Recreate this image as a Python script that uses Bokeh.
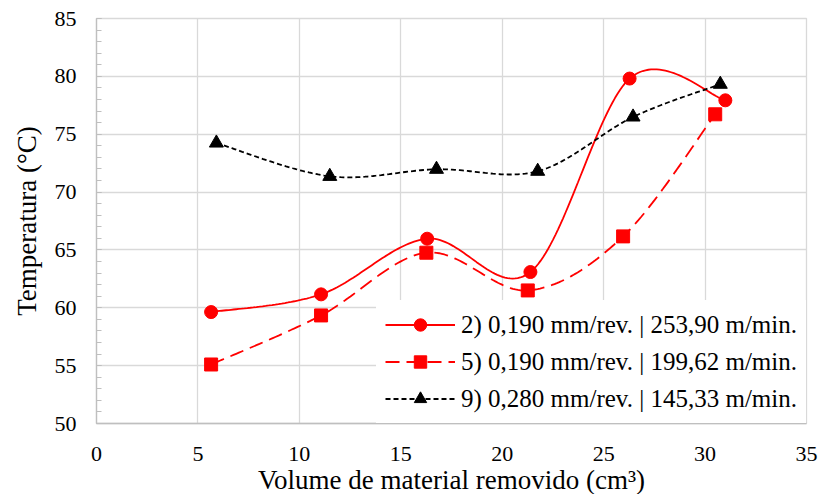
import numpy as np
from bokeh.plotting import figure
from bokeh.models import Range1d, Legend, LegendItem, FixedTicker
from bokeh.embed import file_html
from bokeh.resources import INLINE

# ---- data ----
x_s2 = [5.65, 11.07, 16.30, 21.39, 26.28, 31.00]
y_s2 = [59.63, 61.16, 65.97, 63.09, 79.81, 77.93]
x_s5 = [5.65, 11.07, 16.26, 21.26, 25.96, 30.50]
y_s5 = [55.10, 59.34, 64.76, 61.50, 66.17, 76.72]
x_s9 = [5.91, 11.50, 16.76, 21.75, 26.45, 30.75]
y_s9 = [74.24, 71.36, 71.97, 71.80, 76.49, 79.32]
labels = ["2) 0,190 mm/rev. | 253,90 m/min.",
          "5) 0,190 mm/rev. | 199,62 m/min.",
          "9) 0,280 mm/rev. | 145,33 m/min."]
x_ticks = [0, 5, 10, 15, 20, 25, 30, 35]
y_ticks = [50, 55, 60, 65, 70, 75, 80, 85]

FONT = "Liberation Serif"


def smooth(xs, ys, n=40):
    """Excel-like smoothed line (Catmull-Rom Bezier)."""
    P = np.column_stack([xs, ys]).astype(float)
    m = len(P)
    out = []
    for i in range(m - 1):
        p0 = P[i - 1] if i > 0 else P[i]
        p1 = P[i]
        p2 = P[i + 1]
        p3 = P[i + 2] if i + 2 < m else P[i + 1]
        c1 = p1 + (p2 - p0) / 6.0
        c2 = p2 - (p3 - p1) / 6.0
        t = np.linspace(0, 1, n, endpoint=(i == m - 2))[:, None]
        seg = ((1 - t) ** 3) * p1 + 3 * ((1 - t) ** 2) * t * c1 + 3 * (1 - t) * t ** 2 * c2 + t ** 3 * p2
        out.append(seg)
    out = np.vstack(out)
    return out[:, 0], out[:, 1]


p = figure(frame_width=710, frame_height=405,
           min_border_left=96, min_border_right=15, min_border_top=18, min_border_bottom=71,
           x_range=Range1d(0, 35), y_range=Range1d(50, 85),
           output_backend="svg", toolbar_location=None)

p.background_fill_color = "white"
p.border_fill_color = "white"
p.outline_line_color = "#d9d9d9"
p.outline_line_width = 1.3

for ax in (p.xaxis, p.yaxis):
    ax.axis_line_color = "#bfbfbf"
    ax.axis_line_width = 1.3
    ax.major_label_text_font = FONT
    ax.major_label_text_font_size = "22px"
    ax.major_label_text_color = "#000000"
    ax.axis_label_text_font = FONT
    ax.axis_label_text_font_size = "27px"
    ax.axis_label_text_font_style = "normal"
    ax.axis_label_text_color = "#000000"

p.xaxis.ticker = FixedTicker(ticks=x_ticks)
p.xaxis.major_tick_in = 0
p.xaxis.major_tick_out = 0
p.xaxis.minor_tick_in = 0
p.xaxis.minor_tick_out = 0
p.xaxis.major_label_standoff = 23
p.xaxis.axis_label = "Volume de material removido (cm³)"
p.xaxis.axis_label_standoff = 1

p.yaxis.ticker = FixedTicker(ticks=y_ticks, minor_ticks=list(range(50, 86)))
p.yaxis.major_tick_in = 5
p.yaxis.major_tick_out = 0
p.yaxis.minor_tick_in = 5
p.yaxis.minor_tick_out = 0
p.yaxis.major_tick_line_color = "#bfbfbf"
p.yaxis.minor_tick_line_color = "#bfbfbf"
p.yaxis.major_label_standoff = 20
p.yaxis.axis_label = "Temperatura (°C)"
p.yaxis.axis_label_standoff = 10

p.xgrid.ticker = FixedTicker(ticks=x_ticks)
p.ygrid.ticker = FixedTicker(ticks=y_ticks)
for g in (p.xgrid, p.ygrid):
    g.grid_line_color = "#d9d9d9"
    g.grid_line_width = 1.3

# series 2
sx, sy = smooth(x_s2, y_s2)
l2 = p.line(sx, sy, line_color="#ff0000", line_width=1.8)
m2 = p.scatter(x_s2, y_s2, marker="circle", size=13, fill_color="#ff0000", line_color="#ff0000")
# series 5
sx, sy = smooth(x_s5, y_s5)
l5 = p.line(sx, sy, line_color="#ff0000", line_width=1.8, line_dash="14 7")
m5 = p.scatter(x_s5, y_s5, marker="square", size=13, fill_color="#ff0000", line_color="#ff0000")
# series 9
sx, sy = smooth(x_s9, y_s9)
l9 = p.line(sx, sy, line_color="#000000", line_width=1.8, line_dash="5 3")
m9 = p.scatter(x_s9, y_s9, marker="triangle", size=14, fill_color="#000000", line_color="#000000")

legend = Legend(items=[
    LegendItem(label=labels[0], renderers=[l2, m2]),
    LegendItem(label=labels[1], renderers=[l5, m5]),
    LegendItem(label=labels[2], renderers=[l9, m9]),
], location="bottom_right")
legend.label_text_font = FONT
legend.label_text_font_size = "25px"
legend.label_text_color = "#000000"
legend.glyph_width = 70
legend.glyph_height = 31
legend.label_height = 31
legend.label_standoff = 6
legend.spacing = 6
legend.padding = 8
legend.margin = 0
legend.border_line_color = "white"
legend.border_line_alpha = 0.01
legend.border_line_width = 1
legend.background_fill_color = "white"
legend.background_fill_alpha = 1.0
p.add_layout(legend, "center")

open("out.html", "w").write(file_html(p, INLINE))
